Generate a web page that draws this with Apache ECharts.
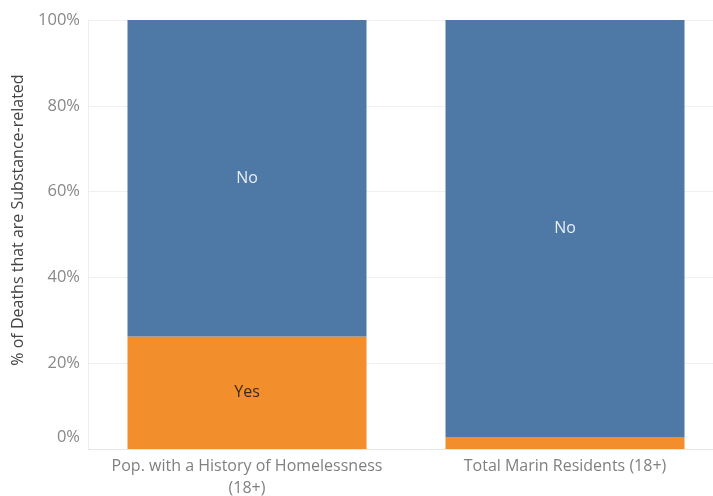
<!DOCTYPE html>
<html><head><meta charset="utf-8">
<script src="https://cdn.jsdelivr.net/npm/echarts@6/dist/echarts.min.js"></script>
<style>html,body{margin:0;padding:0;background:#fff}#c{width:713px;height:496px}</style>
</head><body><div id="c"></div>
<script>
const categories = ['Pop. with a History of Homelessness\n(18+)', 'Total Marin Residents (18+)'];
const yesValues = [26.2, 2.8];
const noValues = [73.8, 97.2];
const yTicks = [0, 20, 40, 60, 80, 100];
const yAxisTitle = '% of Deaths that are Substance-related';

const font = 'Open Sans';
const chart = echarts.init(document.getElementById('c'));
chart.setOption({
  animation: false,
  grid: { left: 88, top: 20, width: 636, height: 429, containLabel: false, outerBoundsMode: 'none' },
  xAxis: {
    type: 'category', data: categories,
    axisLine: { lineStyle: { color: '#e6e6e6' } },
    axisTick: { show: false },
    axisLabel: { interval: 0, hideOverlap: false, color: '#808080', fontFamily: font, fontSize: 16, lineHeight: 22, margin: 6 },
    splitLine: { show: false }
  },
  yAxis: {
    type: 'value', min: 0, max: 100, interval: 20,
    axisLine: { show: true, lineStyle: { color: '#eeeeee' } },
    axisTick: { show: false },
    splitLine: { lineStyle: { color: '#f0f0f0' } },
    axisLabel: {
      color: '#888888', fontFamily: font, fontSize: 16.5, margin: 8,
      formatter: v => v === 0 ? '{z|0%}' : v + '%',
      rich: { z: { color: '#888888', fontFamily: font, fontSize: 16.5, padding: [0, 0, 24, 0] } }
    }
  },
  graphic: [{
    type: 'text', x: 18, y: 220, rotation: Math.PI / 2,
    style: { text: yAxisTitle, fill: '#444', font: '16px "Open Sans"', align: 'center', verticalAlign: 'middle' }
  }],
  series: [
    {
      name: 'Yes', type: 'bar', stack: 's', barWidth: 239,
      itemStyle: { color: '#f28e2b' },
      label: { show: true, position: 'inside', formatter: 'Yes', color: '#3a2a1a', fontFamily: font, fontSize: 16 },
      data: yesValues.map((v, i) => i === 1 ? { value: v, label: { show: false } } : v)
    },
    {
      name: 'No', type: 'bar', stack: 's', barWidth: 239,
      itemStyle: { color: '#4e79a7' },
      label: { show: true, position: 'inside', formatter: 'No', color: '#e8eef6', fontFamily: font, fontSize: 16 },
      data: noValues
    }
  ]
});
</script></body></html>
